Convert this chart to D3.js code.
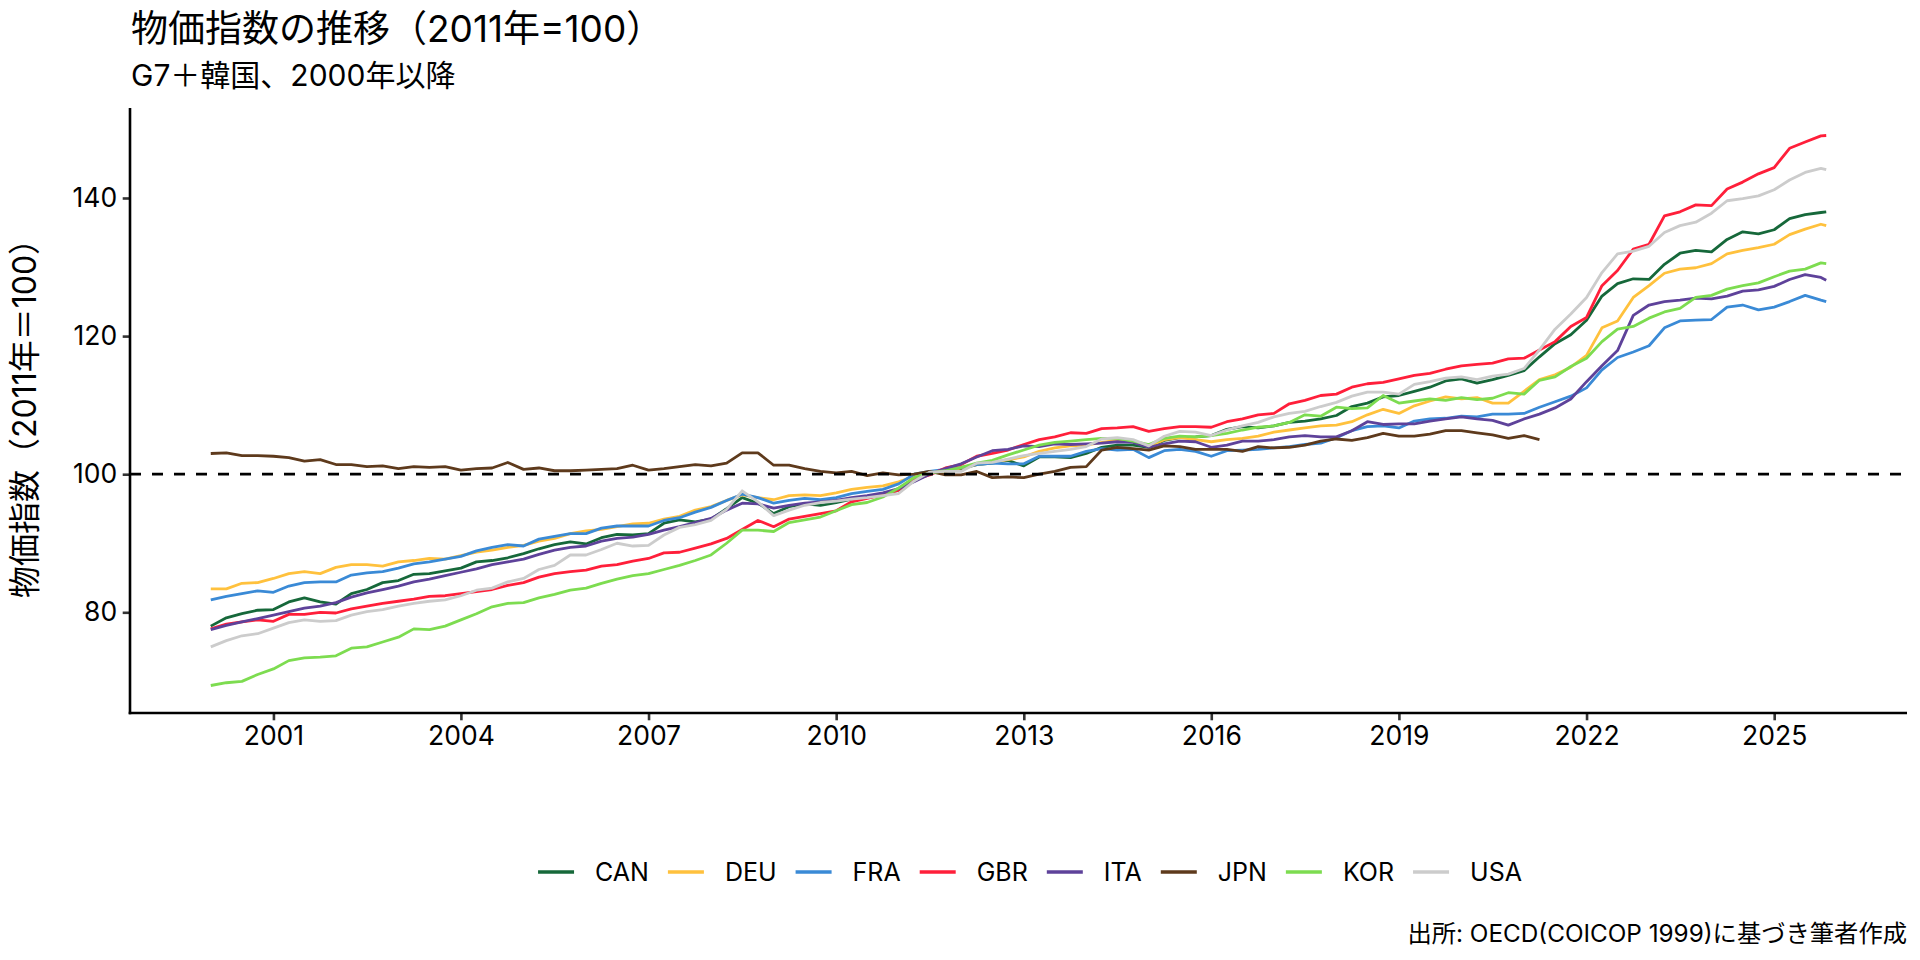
<!DOCTYPE html>
<html><head><meta charset="utf-8">
<script src="https://cdn.jsdelivr.net/npm/d3@7"></script>
<style>
html,body{margin:0;padding:0;background:#fff;}
svg{display:block;}
text{font-family:Inter,'Noto Sans CJK JP',sans-serif;fill:#000;}
</style></head><body>
<svg id="chart" width="1920" height="960"></svg>
<script>
// ---- data (quarterly readings + final month) ----
const months = [
"2000-01","2000-04","2000-07","2000-10","2001-01","2001-04","2001-07","2001-10",
"2002-01","2002-04","2002-07","2002-10","2003-01","2003-04","2003-07","2003-10",
"2004-01","2004-04","2004-07","2004-10","2005-01","2005-04","2005-07","2005-10",
"2006-01","2006-04","2006-07","2006-10","2007-01","2007-04","2007-07","2007-10",
"2008-01","2008-04","2008-07","2008-10","2009-01","2009-04","2009-07","2009-10",
"2010-01","2010-04","2010-07","2010-10","2011-01","2011-04","2011-07","2011-10",
"2012-01","2012-04","2012-07","2012-10","2013-01","2013-04","2013-07","2013-10",
"2014-01","2014-04","2014-07","2014-10","2015-01","2015-04","2015-07","2015-10",
"2016-01","2016-04","2016-07","2016-10","2017-01","2017-04","2017-07","2017-10",
"2018-01","2018-04","2018-07","2018-10","2019-01","2019-04","2019-07","2019-10",
"2020-01","2020-04","2020-07","2020-10","2021-01","2021-04","2021-07","2021-10",
"2022-01","2022-04","2022-07","2022-10","2023-01","2023-04","2023-07","2023-10",
"2024-01","2024-04","2024-07","2024-10","2025-01","2025-04","2025-07","2025-10",
"2025-11"];

const CAN = [78.0,79.2,79.8,80.3, 80.4,81.5,82.1,81.5, 81.2,82.7,83.3,84.3, 84.6,85.5,85.6,86.0,
 86.4,87.3,87.5,87.9, 88.5,89.2,89.8,90.2, 89.9,90.8,91.3,91.2, 91.4,92.9,93.4,93.1,
 93.5,95.0,96.6,95.8, 94.3,95.3,95.7,95.5, 95.9,96.4,96.6,97.0, 97.7,99.1,100.2,100.5,
 100.8,101.4,101.6,102.0, 101.2,102.5,102.5,102.4, 103.0,103.9,104.2,104.2, 103.9,104.9,105.3,105.4,
 105.6,106.5,106.9,106.7, 107.0,107.5,107.7,108.0, 108.5,109.8,110.3,111.2, 111.4,112.0,112.6,113.5,
 113.8,113.2,113.7,114.3, 115.0,117.0,118.9,120.2, 122.3,125.8,127.6,128.3, 128.2,130.4,132.0,132.4,
 132.2,134.0,135.1,134.8, 135.4,137.0,137.6,137.9, 138.0];
const DEU = [83.4,83.4,84.2,84.3, 84.9,85.6,85.9,85.6, 86.5,86.9,86.9,86.7, 87.3,87.5,87.8,87.7,
 88.2,88.7,89.0,89.4, 89.7,90.3,90.7,91.4, 91.8,92.0,92.4,92.8, 92.9,93.5,93.9,94.8,
 95.3,96.2,97.0,96.6, 96.3,96.9,97.0,96.9, 97.3,97.8,98.1,98.3, 98.9,99.7,100.2,100.4,
 100.9,101.4,101.7,102.1, 102.5,103.3,103.8,104.1, 104.2,104.6,104.9,104.8, 104.0,105.0,105.3,105.0,
 104.7,105.0,105.2,105.5, 106.1,106.4,106.7,107.0, 107.1,107.6,108.6,109.4, 108.8,109.9,110.6,111.2,
 110.9,111.1,110.3,110.3, 112.0,113.7,114.4,115.5, 117.2,121.2,122.2,125.6, 127.3,129.1,129.7,129.9,
 130.5,131.9,132.4,132.8, 133.3,134.7,135.5,136.2, 136.0];
const FRA = [81.8,82.3,82.7,83.1, 82.9,83.8,84.3,84.4, 84.4,85.4,85.7,85.9, 86.4,87.0,87.3,87.7,
 88.1,88.9,89.4,89.8, 89.6,90.6,91.0,91.4, 91.4,92.2,92.5,92.5, 92.5,93.3,93.7,94.5,
 95.2,96.2,97.1,96.6, 95.8,96.2,96.5,96.3, 96.6,97.2,97.5,97.8, 98.6,100.0,100.4,100.7,
 101.0,101.4,101.6,101.5, 101.5,102.6,102.6,102.6, 103.3,103.7,103.5,103.6, 102.4,103.4,103.6,103.3,
 102.6,103.4,103.5,103.6, 103.8,104.0,104.3,104.5, 105.3,106.3,106.9,107.0, 106.7,107.7,108.0,108.1,
 108.4,108.3,108.7,108.7, 108.8,109.7,110.5,111.3, 112.5,115.1,116.9,117.7, 118.6,121.2,122.2,122.3,
 122.4,124.2,124.5,123.8, 124.2,125.0,125.9,125.2, 125.0];
const GBR = [77.6,78.3,78.6,78.9, 78.7,79.7,79.7,80.0, 79.9,80.5,80.9,81.3, 81.6,81.9,82.3,82.4,
 82.7,83.0,83.3,83.9, 84.3,85.1,85.6,85.9, 86.1,86.7,86.9,87.4, 87.8,88.6,88.7,89.3,
 89.9,90.7,92.0,93.3, 92.4,93.5,93.9,94.3, 94.7,96.0,96.5,97.0, 97.7,99.2,99.9,100.9,
 101.4,102.6,103.0,103.5, 104.3,105.0,105.4,106.0, 105.9,106.6,106.7,106.9, 106.2,106.6,106.9,106.9,
 106.8,107.6,108.0,108.6, 108.8,110.2,110.7,111.4, 111.6,112.6,113.1,113.3, 113.8,114.3,114.6,115.2,
 115.7,115.9,116.1,116.7, 116.8,118.0,119.2,121.4, 122.7,127.3,129.5,132.6, 133.3,137.4,138.0,139.0,
 138.9,141.3,142.3,143.5, 144.4,147.2,148.1,149.0, 149.05];
const ITA = [77.5,78.1,78.6,79.1, 79.6,80.1,80.6,80.9, 81.4,82.2,82.8,83.3, 83.8,84.4,84.8,85.3,
 85.8,86.3,86.9,87.3, 87.7,88.4,89.0,89.4, 89.6,90.3,90.7,90.9, 91.3,91.9,92.4,93.0,
 93.6,94.8,95.8,95.7, 95.1,95.5,95.8,96.0, 96.2,96.6,96.9,97.3, 97.9,98.9,100.0,100.8,
 101.5,102.5,103.4,103.6, 104.1,104.0,104.4,104.3, 104.4,104.5,104.7,104.6, 103.9,104.4,104.8,104.7,
 103.9,104.2,104.8,104.8, 105.0,105.4,105.6,105.4, 105.4,106.3,107.6,107.2, 107.3,107.3,107.7,108.0,
 108.3,108.0,107.8,107.1, 108.0,108.7,109.6,110.9, 113.4,115.7,117.9,123.0, 124.5,125.0,125.2,125.5,
 125.4,125.8,126.5,126.7, 127.2,128.2,128.9,128.5, 128.1];
const JPN = [103.0,103.1,102.7,102.7, 102.6,102.4,101.9,102.1, 101.4,101.4,101.1,101.2, 100.8,101.1,101.0,101.1,
 100.6,100.8,100.9,101.7, 100.7,100.9,100.5,100.5, 100.6,100.7,100.8,101.3, 100.6,100.8,101.1,101.4,
 101.2,101.6,103.1,103.1, 101.3,101.3,100.8,100.4, 100.2,100.4,99.8,100.2, 99.9,100.0,100.4,99.9,
 99.9,100.4,99.5,99.6, 99.5,100.0,100.4,101.0, 101.1,103.5,103.9,103.7, 103.5,104.1,104.0,103.6,
 103.6,103.6,103.3,104.0, 103.8,103.9,104.2,104.8, 105.1,104.9,105.3,105.9, 105.5,105.5,105.8,106.3,
 106.3,106.0,105.7,105.2, 105.6,105.0];
const KOR = [69.4,69.8,70.0,71.0, 71.8,73.0,73.4,73.5, 73.7,74.8,75.0,75.7, 76.4,77.6,77.5,78.0,
 78.9,79.8,80.8,81.3, 81.4,82.1,82.6,83.2, 83.5,84.2,84.8,85.3, 85.6,86.2,86.8,87.5,
 88.3,90.0,91.9,91.9, 91.7,93.0,93.4,93.8, 94.7,95.6,95.9,96.7, 98.0,99.5,100.2,100.5,
 101.0,101.6,102.0,102.8, 103.5,104.2,104.6,104.8, 105.0,105.2,105.2,104.8, 104.3,105.2,105.5,105.4,
 105.6,105.9,106.4,106.8, 107.0,107.5,108.6,108.4, 109.7,109.5,109.6,111.4, 110.3,110.6,110.9,110.7,
 111.1,110.8,111.0,111.8, 111.6,113.6,114.1,115.6, 116.8,119.2,121.0,121.4, 122.6,123.5,124.0,125.6,
 125.9,126.8,127.3,127.7, 128.6,129.4,129.7,130.6, 130.5];
const USA = [75.0,75.9,76.6,76.9, 77.7,78.5,78.9,78.7, 78.8,79.6,80.1,80.4, 80.9,81.3,81.6,81.8,
 82.4,83.2,83.5,84.4, 84.9,86.2,86.8,88.3, 88.3,89.1,90.0,89.6, 89.7,91.2,92.3,92.7,
 93.3,94.9,97.6,96.0, 94.0,94.8,95.5,95.9, 96.1,96.4,96.6,96.9, 97.2,99.0,100.3,100.4,
 100.4,101.6,101.7,102.2, 102.7,103.0,103.3,103.6, 104.0,105.1,105.3,105.0, 104.1,105.5,106.2,106.1,
 105.6,106.4,107.0,107.5, 108.3,108.8,109.1,109.8, 110.4,111.3,111.9,111.9, 111.6,113.0,113.4,113.9,
 114.1,113.7,114.2,114.5, 115.3,118.0,121.0,123.2, 125.6,129.2,131.9,132.3, 133.0,135.0,136.0,136.5,
 137.8,139.6,139.9,140.3, 141.2,142.6,143.7,144.3, 144.1];

const countries = ["CAN","DEU","FRA","GBR","ITA","JPN","KOR","USA"];
const seriesValues = [CAN, DEU, FRA, GBR, ITA, JPN, KOR, USA];
const colors = ["#16683a","#ffc13d","#3a8ad6","#ff1f3a","#5e429a","#5e3a1c","#7ddc50","#cccccc"];
const yTicks = [80, 100, 120, 140];
const xTickYears = [2001, 2004, 2007, 2010, 2013, 2016, 2019, 2022, 2025];
const refLine = 100;

const titleText = "物価指数の推移（2011年=100）";
const subtitleText = "G7＋韓国、2000年以降";
const yTitleText = "物価指数（2011年＝100）";
const captionText = "出所: OECD(COICOP 1999)に基づき筆者作成";

// ---- layout ----
const W = 1920, H = 960;
const P = {left: 130, right: 1907, top: 108, bottom: 713};
const FONT = "Inter,'Noto Sans CJK JP',sans-serif";
const svg = d3.select("#chart");

const parse = d3.timeParse("%Y-%m");
const dates = months.map(parse);

const allVals = seriesValues.flat().filter(v => v != null);
const yMin = d3.min(allVals), yMax = d3.max(allVals);
const yPad = (yMax - yMin) * 0.05;
const y = d3.scaleLinear().domain([yMin - yPad, yMax + yPad]).range([P.bottom, P.top]);

const t0 = +dates[0], t1 = +dates[dates.length - 1];
const xPad = (t1 - t0) * 0.05;
const x = d3.scaleTime().domain([new Date(t0 - xPad), new Date(t1 + xPad)]).range([P.left, P.right]);

// lines
const line = d3.line()
  .defined(d => d.v != null)
  .x(d => x(d.date))
  .y(d => y(d.v));

const gLines = svg.append("g");
countries.forEach((c, i) => {
  const pts = dates.map((d, k) => ({date: d, v: seriesValues[i][k] != null ? seriesValues[i][k] : null}));
  gLines.append("path")
    .datum(pts)
    .attr("d", line)
    .attr("fill", "none")
    .attr("stroke", colors[i])
    .attr("stroke-width", 2.8)
    .attr("stroke-linejoin", "round")
    .attr("stroke-linecap", "butt");
});

// reference line
svg.append("line")
  .attr("x1", P.left).attr("x2", P.right)
  .attr("y1", y(refLine)).attr("y2", y(refLine))
  .attr("stroke", "#000").attr("stroke-width", 2.8)
  .attr("stroke-dasharray", "11,11");

// axes
const yAxis = d3.axisLeft(y).tickValues(yTicks).tickSize(7.3).tickPadding(5.5);
const gy = svg.append("g").attr("transform", `translate(${P.left},0)`).call(yAxis);
gy.select(".domain").remove();
gy.selectAll(".tick line").attr("stroke", "#333").attr("stroke-width", 2.6);
gy.selectAll(".tick text").attr("font-size", 26.5).attr("fill", "#000").attr("font-family", FONT);

const xAxis = d3.axisBottom(x).tickValues(xTickYears.map(yr => new Date(yr, 0, 1)))
  .tickFormat(d3.timeFormat("%Y")).tickSize(7.3).tickPadding(5.5);
const gx = svg.append("g").attr("transform", `translate(0,${P.bottom})`).call(xAxis);
gx.select(".domain").remove();
gx.selectAll(".tick line").attr("stroke", "#333").attr("stroke-width", 2.6);
gx.selectAll(".tick text").attr("font-size", 26.5).attr("fill", "#000").attr("font-family", FONT);

svg.append("line").attr("x1", P.left).attr("x2", P.left).attr("y1", P.top).attr("y2", P.bottom + 1.3)
  .attr("stroke", "#000").attr("stroke-width", 2.6);
svg.append("line").attr("x1", P.left - 1.3).attr("x2", P.right).attr("y1", P.bottom).attr("y2", P.bottom)
  .attr("stroke", "#000").attr("stroke-width", 2.6);

// titles
svg.append("text").attr("x", 131).attr("y", 42).attr("font-size", 37).text(titleText);
svg.append("text").attr("x", 131).attr("y", 86).attr("font-size", 30).text(subtitleText);
svg.append("text")
  .attr("transform", `translate(24,${(P.top + P.bottom) / 2}) rotate(-90)`)
  .attr("text-anchor", "middle").attr("dominant-baseline", "central")
  .attr("font-size", 32).text(yTitleText);
svg.append("text").attr("x", P.right).attr("y", 942).attr("text-anchor", "end")
  .attr("font-size", 24.3).text(captionText);

// legend
const legY = 872, keyW = 36, keyGap = 21, itemGap = 19;
const gLeg = svg.append("g");
const items = countries.map((c, i) => {
  const g = gLeg.append("g");
  g.append("line").attr("x1", 0).attr("x2", keyW).attr("y1", 0).attr("y2", 0)
    .attr("stroke", colors[i]).attr("stroke-width", 3.6);
  const t = g.append("text").attr("x", keyW + keyGap).attr("y", 0)
    .attr("dominant-baseline", "central").attr("font-size", 25).text(c);
  return {g, w: keyW + keyGap + t.node().getComputedTextLength()};
});
const totalW = d3.sum(items, d => d.w) + itemGap * (items.length - 1);
let cx = 1030 - totalW / 2;
items.forEach(it => {
  it.g.attr("transform", `translate(${cx},${legY})`);
  cx += it.w + itemGap;
});
</script>
</body></html>
